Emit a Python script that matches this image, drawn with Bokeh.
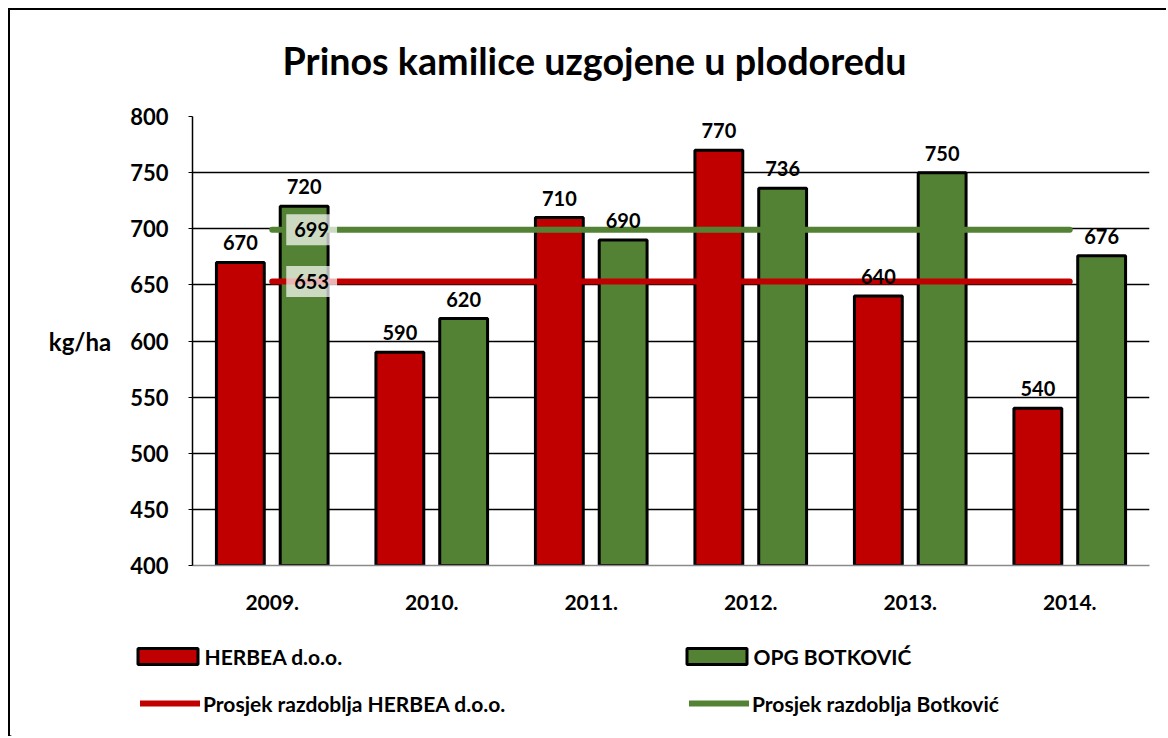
from bokeh.plotting import figure
from bokeh.models import (ColumnDataSource, FactorRange, Legend, LegendItem, FixedTicker,
                          Range1d, Label)
from bokeh.transform import dodge
from bokeh.core.properties import value
from bokeh.embed import file_html
from bokeh.resources import INLINE

title_text = "Prinos kamilice uzgojene u plodoredu"
years = ["2009.", "2010.", "2011.", "2012.", "2013.", "2014."]
herbea = [670, 590, 710, 770, 640, 540]
botkovic = [720, 620, 690, 736, 750, 676]
avg_herbea = 653
avg_botkovic = 699
y_ticks = [400, 450, 500, 550, 600, 650, 700, 750, 800]

RED = "#C00000"
GREEN = "#548235"
FONT = "Lato"
W = 1158

src = ColumnDataSource(dict(
    year=years,
    herbea=herbea,
    botkovic=botkovic,
    herbea_lbl=[str(v) for v in herbea],
    botkovic_lbl=[str(v) for v in botkovic],
    avg_h=[avg_herbea] * len(years),
    avg_b=[avg_botkovic] * len(years),
))


def strip(height):
    f = figure(width=W, height=height, output_backend="svg", toolbar_location=None,
               x_range=Range1d(0, 1), y_range=Range1d(0, 1), x_axis_type=None,
               y_axis_type=None, min_border_left=0, min_border_right=0,
               min_border_top=0, min_border_bottom=0)
    f.outline_line_color = None
    f.grid.grid_line_color = None
    return f


# title strip (top of the chart box)
r = strip(88)
r.styles = {"margin-left": "8px", "margin-top": "8px",
            "border-top": "2px solid black", "border-left": "2px solid black"}
r.add_layout(Label(x=584, y=38, x_units="screen", y_units="screen", text=title_text,
                   text_align="center", text_baseline="middle", text_font=FONT,
                   text_font_size="37.7px", text_font_style="bold", text_color="black"))

# main chart
p = figure(x_range=FactorRange(*years, range_padding=0), y_range=(400, 800),
           width=W, height=527, output_backend="svg", toolbar_location=None,
           min_border_left=182, min_border_right=19, min_border_top=20,
           min_border_bottom=58)
p.styles = {"margin-left": "8px", "border-left": "2px solid black"}

p.outline_line_color = None
p.xgrid.grid_line_color = None
p.ygrid.grid_line_color = "black"
p.ygrid.grid_line_width = 1.5
p.ygrid.ticker = FixedTicker(ticks=y_ticks)

p.yaxis.ticker = FixedTicker(ticks=y_ticks)
p.yaxis.minor_tick_line_color = None
p.yaxis.major_tick_out = 4
p.yaxis.major_tick_in = 0
p.yaxis.major_tick_line_color = "black"
p.yaxis.axis_line_color = "black"
p.yaxis.axis_line_width = 1.5
p.yaxis.major_label_standoff = 20
p.yaxis.major_label_text_font = FONT
p.yaxis.major_label_text_font_size = "22px"
p.yaxis.major_label_text_font_style = "bold"
p.yaxis.major_label_text_color = "black"
p.yaxis.axis_label = "kg/ha"
p.yaxis.axis_label_orientation = "horizontal"
p.yaxis.axis_label_standoff = 16
p.yaxis.axis_label_text_font = FONT
p.yaxis.axis_label_text_font_size = "24px"
p.yaxis.axis_label_text_font_style = "bold"
p.yaxis.axis_label_text_color = "black"

p.xaxis.axis_line_color = "#8a8a8a"
p.xaxis.axis_line_width = 1.5
p.xaxis.major_tick_out = 0
p.xaxis.major_tick_in = 0
p.xaxis.major_label_standoff = 29
p.xaxis.major_label_text_font = FONT
p.xaxis.major_label_text_font_size = "21px"
p.xaxis.major_label_text_font_style = "bold"
p.xaxis.major_label_text_color = "black"

bar_kw = dict(bottom=400, width=0.3, source=src, line_color="black", line_width=3)
p.vbar(x=dodge("year", -0.2, range=p.x_range), top="herbea", fill_color=RED, **bar_kw)
p.vbar(x=dodge("year", 0.2, range=p.x_range), top="botkovic", fill_color=GREEN, **bar_kw)

line_kw = dict(line_width=6, line_cap="round")
p.line(x="year", y="avg_h", source=src, line_color=RED, **line_kw)
p.line(x="year", y="avg_b", source=src, line_color=GREEN, **line_kw)

lbl_kw = dict(text_align="center", text_baseline="bottom", y_offset=-12,
              text_font=value(FONT), text_font_size="20px", text_font_style="bold",
              text_color="black")
p.text(x=dodge("year", -0.2, range=p.x_range), y="herbea", text="herbea_lbl", source=src, **lbl_kw)
p.text(x=dodge("year", 0.2, range=p.x_range), y="botkovic", text="botkovic_lbl", source=src, **lbl_kw)

avg_kw = dict(x_offset=14, text_align="left", text_baseline="middle",
              text_font=value(FONT), text_font_size="20px", text_font_style="bold",
              text_color="black", background_fill_color="white", background_fill_alpha=0.7,
              padding=8)
p.text(x=[years[0]], y=[avg_botkovic], text=[str(avg_botkovic)], **avg_kw)
p.text(x=[years[0]], y=[avg_herbea], text=[str(avg_herbea)], **avg_kw)

# legend strip below the chart
q = strip(113)
q.styles = {"margin-left": "8px", "border-left": "2px solid black"}
off = dict(x=[-10], top=[-10], bottom=[-11])
lg_bar_h = q.vbar(width=0.1, fill_color=RED, line_color="black", line_width=3, **off)
lg_bar_b = q.vbar(width=0.1, fill_color=GREEN, line_color="black", line_width=3, **off)
lg_line_h = q.line(x=[-10, -9], y=[-10, -10], line_color=RED, **line_kw)
lg_line_b = q.line(x=[-10, -9], y=[-10, -10], line_color=GREEN, **line_kw)


def make_legend(label, rend, x, y, gw, gh, standoff):
    lg = Legend(items=[LegendItem(label=label, renderers=[rend])], location=(x, y),
                border_line_color=None, background_fill_alpha=0, padding=0, margin=0,
                spacing=0, glyph_width=gw, glyph_height=gh, label_standoff=standoff,
                label_text_font=FONT, label_text_font_size="21px",
                label_text_font_style="bold", label_text_color="black",
                label_height=20)
    q.add_layout(lg, "center")


COL2 = 549
make_legend("HERBEA d.o.o.", lg_bar_h, 119.5, 67.5, 75, 20, 0)
make_legend("OPG BOTKOVIĆ", lg_bar_b, 119.5 + COL2, 67.5, 75, 20, 0)
make_legend("Prosjek razdoblja HERBEA d.o.o.", lg_line_h, 130, 20.5, 60, 20, 3)
make_legend("Prosjek razdoblja Botković", lg_line_b, 130 + COL2, 20.5, 60, 20, 3)

open("out.html", "w").write(file_html([r, p, q], INLINE))
